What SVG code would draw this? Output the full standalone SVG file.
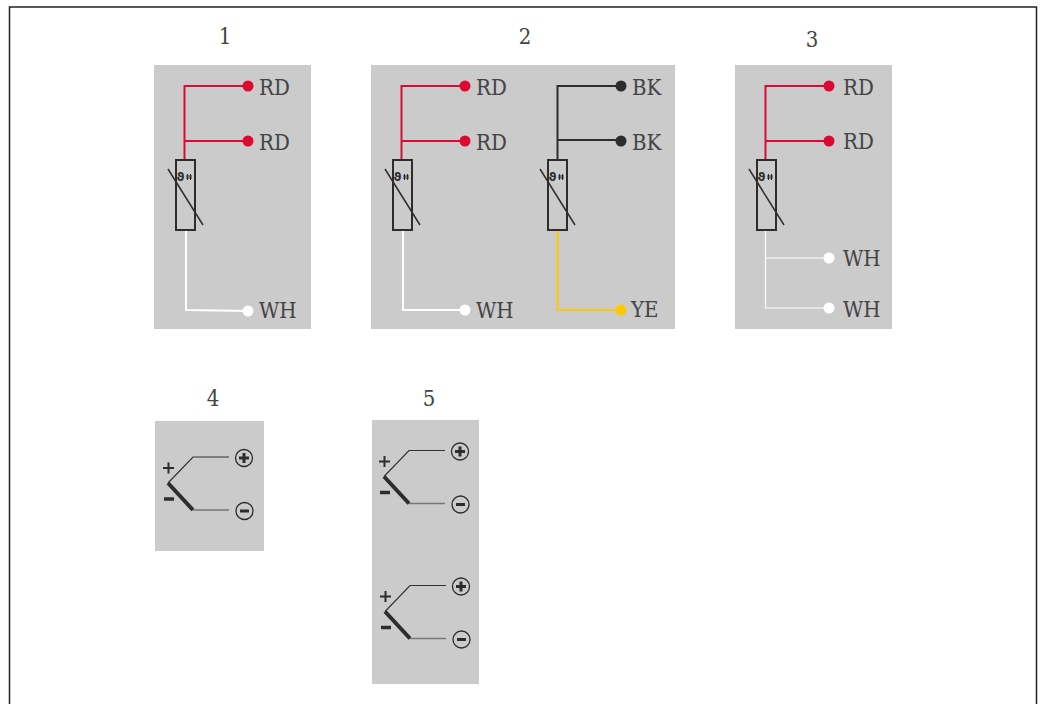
<svg xmlns="http://www.w3.org/2000/svg" width="1044" height="704" viewBox="0 0 1044 704">
<style>
.bg{fill:#cbcbcb}
.lbl{font-family:"DejaVu Serif Condensed","DejaVu Serif",serif;font-size:22px;fill:#444}
.num{font-family:"DejaVu Serif Condensed","DejaVu Serif",serif;font-size:22px;fill:#444;text-anchor:middle}
.w{fill:none;stroke-width:2}
.rd{stroke:#dc0a32}.bk{stroke:#2d2d2d}.wh{stroke:#fff}.ye{stroke:#ffc800}
.drd{fill:#dc0a32}.dbk{fill:#2d2d2d}.dwh{fill:#fff}.dye{fill:#ffc800}
.s{fill:none;stroke:#2d2d2d;stroke-width:2}
.t{fill:none;stroke:#333;stroke-width:1.2}
.c{fill:none;stroke:#2d2d2d;stroke-width:1.3}
.p{font-family:"DejaVu Sans",sans-serif;font-size:12px;font-weight:bold;fill:#2d2d2d;text-anchor:middle}
</style>
<defs>
<g id="sensor">
<rect class="s" x="0" y="0" width="19" height="70"/>
<path d="M-8,9 L27,65" fill="none" stroke="#2d2d2d" stroke-width="1.500"/>
<text x="4.500" y="20.500" class="p">ϑ</text>
<path d="M11.500,14v6M14.500,14v6M10,16h6M10,18h6" stroke="#2d2d2d" stroke-width="1" fill="none"/>
</g>
<g id="tc">
<path d="M0,0 L25,-26 H61" class="t"/>
<path d="M0,0 L25,27" fill="none" stroke="#2d2d2d" stroke-width="4"/>
<path d="M25,27 H61" fill="none" stroke="#777" stroke-width="1.500"/>
<path d="M-5,-15 H6 M0.500,-20.500 V-9.500" stroke="#2d2d2d" stroke-width="2" fill="none"/>
<path d="M-4,16 H6" stroke="#2d2d2d" stroke-width="3.500" fill="none"/>
<circle class="c" cx="76" cy="-25" r="8.500"/>
<path d="M71,-25 H81 M76,-30 V-20" stroke="#2d2d2d" stroke-width="3" fill="none"/>
<circle class="c" cx="76.500" cy="28" r="8.500"/>
<path d="M72,28 H81" stroke="#2d2d2d" stroke-width="3" fill="none"/>
</g>
</defs>
<rect x="9.500" y="7" width="1027" height="710" fill="#fff" stroke="#222" stroke-width="1.500"/>
<g id="panels">
<rect class="bg" x="154" y="65" width="157" height="264"/>
<rect class="bg" x="371" y="65" width="304" height="264"/>
<rect class="bg" x="735" y="65" width="157" height="264"/>
<rect class="bg" x="155" y="421" width="109" height="130"/>
<rect class="bg" x="372" y="420" width="107" height="264"/>
</g>
<g id="connectors">
<path class="w rd" d="M184.500,160 V86 H248 M184.500,141 H248"/>
<path class="w wh" d="M186,231 V310 L248,311"/>
<path class="w rd" d="M401.500,160 V86 H465 M401.500,141 H465"/>
<path class="w wh" d="M403,231 V310 H465"/>
<path class="w bk" d="M557.500,160 V86 H621 M557.500,140 H621"/>
<path class="w ye" d="M557.500,231 V310 H621"/>
<path class="w rd" d="M765.500,160 V86 H829 M765.500,141 H829"/>
<path d="M765.500,231 V308 H829 M765.500,258 H829" fill="none" stroke="#fff" stroke-width="1.200"/>
</g>
<g id="node1">
<text class="num" x="225" y="44">1</text>
<circle class="drd" cx="248" cy="86" r="5.500"/><circle class="drd" cx="248" cy="141" r="5.500"/><circle class="dwh" cx="248" cy="311" r="5.500"/>
<use href="#sensor" x="176" y="160"/>
<text class="lbl" x="259" y="95">RD</text><text class="lbl" x="259" y="150">RD</text><text class="lbl" x="259" y="318">WH</text>
</g>
<g id="node2">
<text class="num" x="525" y="44">2</text>
<circle class="drd" cx="465" cy="86" r="5.500"/><circle class="drd" cx="465" cy="141" r="5.500"/><circle class="dwh" cx="465" cy="310" r="5.500"/>
<circle class="dbk" cx="621" cy="86" r="5.500"/><circle class="dbk" cx="621" cy="141" r="5.500"/><circle class="dye" cx="621" cy="310" r="5.500"/>
<use href="#sensor" x="393" y="160"/><use href="#sensor" x="548" y="160"/>
<text class="lbl" x="476" y="95">RD</text><text class="lbl" x="476" y="150">RD</text><text class="lbl" x="476" y="318">WH</text>
<text class="lbl" x="632" y="95">BK</text><text class="lbl" x="632" y="150">BK</text><text class="lbl" x="631" y="317">YE</text>
</g>
<g id="node3">
<text class="num" x="812" y="47">3</text>
<circle class="drd" cx="829" cy="86" r="5.500"/><circle class="drd" cx="829" cy="141" r="5.500"/><circle class="dwh" cx="829" cy="258" r="5.500"/><circle class="dwh" cx="829" cy="308" r="5.500"/>
<use href="#sensor" x="757" y="160"/>
<text class="lbl" x="843" y="95">RD</text><text class="lbl" x="843" y="149">RD</text><text class="lbl" x="843" y="266">WH</text><text class="lbl" x="843" y="317">WH</text>
</g>
<g id="node4">
<text class="num" x="213" y="406">4</text>
<use href="#tc" x="168" y="483"/>
</g>
<g id="node5">
<text class="num" x="429" y="406">5</text>
<use href="#tc" x="384" y="476.500"/>
<use href="#tc" x="385" y="611.500"/>
</g>
</svg>
